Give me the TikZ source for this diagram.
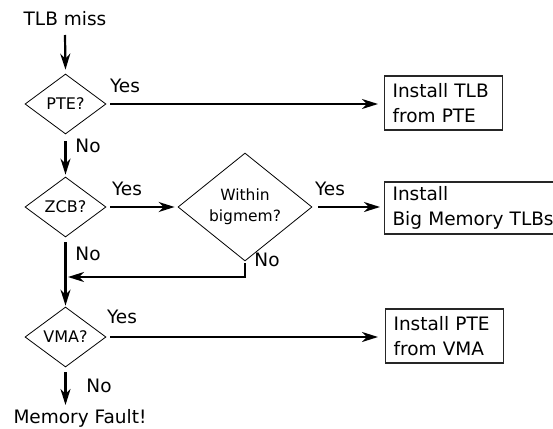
\documentclass[tikz,border=0pt]{standalone}
\usepackage{fontspec}
\setmainfont{DejaVu Sans}
\usetikzlibrary{shapes.geometric,arrows.meta}
\begin{document}
\begin{tikzpicture}[x=1pt,y=-1pt,
  lbl/.style={font=\fontsize{18.5}{22}\selectfont, inner sep=0pt, anchor=base},
  dec/.style={draw, shape=diamond, inner sep=0pt, line width=0.8pt, font=\fontsize{16}{19}\selectfont, align=center},
  box/.style={draw=black!85, line width=1.1pt, rectangle, inner xsep=8pt, align=left, font=\fontsize{18.5}{25}\selectfont},
  arr/.style={line width=2.2pt, -{Stealth[length=16pt,width=10pt,inset=5pt]}},
  ln/.style={line width=2.2pt}
]
\useasboundingbox (0,0) rectangle (553,428);
\clip (0,0) rectangle (553,428);

\node[lbl] (start) at (65,26) {TLB miss};
\node[dec, minimum width=81pt, minimum height=60pt] (pte) at (65.5,104) {PTE?};
\node[dec, minimum width=81pt, minimum height=60pt] (zcb) at (65.5,207) {ZCB?};
\node[dec, minimum width=134pt, minimum height=90pt, font=\fontsize{15.5}{21}\selectfont] (within) at (245,207) {Within\\bigmem?};
\node[dec, minimum width=81pt, minimum height=60pt] (vma) at (65.5,337) {VMA?};
\node[lbl] (fault) at (80,423) {Memory Fault!};

\node[box, text width=102pt, minimum height=54pt, anchor=west] (b1) at (384,103) {Install TLB\\from PTE};
\node[box, text width=200pt, minimum height=52pt, anchor=west] (b2) at (384,208) {Install\\Big Memory TLBs};
\node[box, text width=102pt, minimum height=54pt, anchor=west] (b3) at (385,336) {Install PTE\\from VMA};

\coordinate (join) at (65,277);
\coordinate (wturn) at (245,277);

\draw[arr] (65,35) -- ([yshift=4pt]pte.north);
\draw[arr] ([yshift=-7pt]pte.south) -- ([yshift=2pt]zcb.north);
\draw[arr] ([yshift=-5pt]zcb.south) -- ([yshift=1pt]vma.north);
\draw[arr] ([yshift=-5pt]vma.south) -- (vma.south |- 0,405);

\draw[arr] ([xshift=4pt]pte.east) -- ([xshift=-6pt]b1.west |- pte.east);
\draw[arr] ([xshift=4pt]zcb.east) -- ([xshift=-3pt]within.west);
\draw[arr] ([xshift=6pt]within.east) -- ([xshift=-4pt]b2.west |- within.east);
\draw[arr] ([xshift=4pt]vma.east) -- ([xshift=-7pt]b3.west |- vma.east);

\draw[ln] ([yshift=-2pt]within.south) -- (wturn);
\draw[arr] ([xshift=1.1pt]wturn) -- ([xshift=3pt]join);

\node[lbl] (y1) at (125,92) {Yes};
\node[lbl] (y2) at (127,195) {Yes};
\node[lbl] (y3) at (330,195) {Yes};
\node[lbl] (y4) at (122,323) {Yes};
\node[lbl] (n1) at (88,152) {No};
\node[lbl] (n2) at (88,260) {No};
\node[lbl] (n3) at (267,266) {No};
\node[lbl] (n4) at (99,392) {No};
\end{tikzpicture}
\end{document}
